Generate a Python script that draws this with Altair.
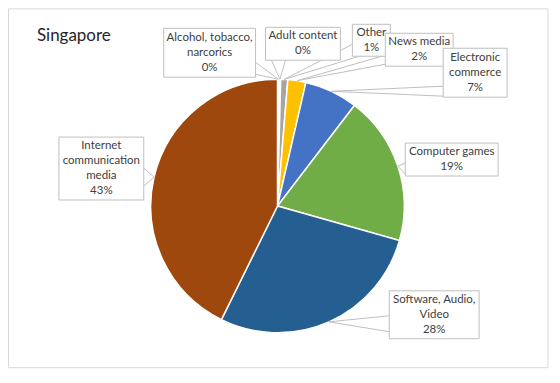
import altair as alt
import pandas as pd
import numpy as np

# ---- data ----
categories = ["Alcohol, tobacco, narcorics", "Adult content", "Other", "News media",
              "Electronic commerce", "Computer games", "Software, Audio, Video",
              "Internet communication media"]
shares = [0.2, 0.2, 0.9, 2.3, 6.8, 19.0, 27.9, 42.7]
pct_labels = ["0%", "0%", "1%", "2%", "7%", "19%", "28%", "43%"]
label_lines = ["Alcohol, tobacco,\nnarcorics", "Adult content", "Other", "News media",
               "Electronic\ncommerce", "Computer games", "Software, Audio,\nVideo",
               "Internet\ncommunication\nmedia"]
colors = ["#5B9BD5", "#ED7D31", "#A5A5A5", "#FFC000", "#4472C4", "#70AD47",
          "#255E91", "#9E480E"]
title_text = "Singapore"

# ---- layout (page pixel coordinates) ----
OFF = 8
CX, CY, R = 278, 206, 127
LH = 15
boxes = [(164, 28, 256, 77), (266, 27, 341, 60), (353, 24, 391, 56), (386, 33, 454, 66),
         (444, 48, 508, 97), (406, 143, 499, 176), (390, 291, 480, 339), (59, 137, 144, 200)]
wedges = [((256, 62), (256, 74)), ((272, 60), (286, 60)), ((353, 44), (360, 56)),
          ((386, 55), (386, 64)), ((444, 86), (444, 96)), ((406, 163), (406, 174)),
          ((390, 316), (390, 332)), ((144, 168), (144, 186))]
FONT = "Lato"
LINE_COL = "#BFBFBF"
TEXT_COL = "#404040"

vals = np.array(shares, dtype=float)
cum = np.cumsum(vals)
mid = (cum - vals / 2) / vals.sum() * 2 * np.pi
ax = CX + R * np.sin(mid)
ay = CY - R * np.cos(mid)

pie_df = pd.DataFrame({"cat": categories, "v": shares, "i": range(len(categories))})

texts = [l + "\n" + p for l, p in zip(label_lines, pct_labels)]
nlines = [t.count("\n") + 1 for t in texts]
lab_df = pd.DataFrame({
    "cat": categories,
    "text": texts,
    "x1": [b[0] - OFF for b in boxes], "y1": [b[1] - OFF for b in boxes],
    "x2": [b[2] - OFF for b in boxes], "y2": [b[3] - OFF for b in boxes],
    "cx": [(b[0] + b[2]) / 2 - OFF for b in boxes],
    "ty": [(b[1] + b[3]) / 2 - OFF - (n - 1) * LH / 2 for b, n in zip(boxes, nlines)],
})

rows = []
for k, (p1, p2) in enumerate(wedges):
    for p in (p1, p2):
        rows.append({"cat": categories[k], "x": p[0] - OFF, "y": p[1] - OFF,
                     "xe": ax[k] - OFF, "ye": ay[k] - OFF})
rule_df = pd.DataFrame(rows)

S = None

frame = alt.Chart(pd.DataFrame({"a": [0]})).mark_rect(
    fill="white", stroke="#D9D9D9", strokeWidth=1).encode(
    x=alt.value(0.5), x2=alt.value(549 - OFF), y=alt.value(0.5), y2=alt.value(368 - OFF))

title = alt.Chart(pd.DataFrame({"t": [title_text]})).mark_text(
    align="left", baseline="alphabetic", font=FONT, fontSize=17, color="#262626").encode(
    x=alt.value(37 - OFF), y=alt.value(41 - OFF), text="t:N")

pie = alt.Chart(pie_df).mark_arc(outerRadius=R, stroke="white", strokeWidth=1.5).encode(
    theta=alt.Theta("v:Q", stack=True),
    order=alt.Order("i:Q"),
    color=alt.Color("cat:N", scale=alt.Scale(domain=categories, range=colors), legend=None),
    x=alt.value(CX - OFF), y=alt.value(CY - OFF))

rules = alt.Chart(rule_df).mark_rule(color=LINE_COL, strokeWidth=1).encode(
    x=alt.X("x:Q", scale=S), y=alt.Y("y:Q", scale=S),
    x2="xe:Q", y2="ye:Q")

def boxes_layer(df):
    return alt.Chart(df).mark_rect(fill="white", stroke=LINE_COL, strokeWidth=1).encode(
        x=alt.X("x1:Q", scale=S), x2="x2:Q", y=alt.Y("y1:Q", scale=S), y2="y2:Q")

def text_layer(df):
    return alt.Chart(df).mark_text(
        align="center", baseline="middle", lineBreak="\n", lineHeight=LH,
        font=FONT, fontSize=11.5, color=TEXT_COL).encode(
        x=alt.X("cx:Q", scale=S), y=alt.Y("ty:Q", scale=S), text="text:N")

label_layers = []
for k in range(len(categories)):
    one = lab_df.iloc[[k]]
    label_layers += [boxes_layer(one), text_layer(one)]

chart = alt.layer(
    frame, title, pie, rules, *label_layers
).properties(
    width=545, height=367, padding=0,
    autosize=alt.AutoSizeParams(type="none"),
).configure_view(stroke=None)

chart.save("out.html", embed_options={"renderer": "svg", "actions": False})
